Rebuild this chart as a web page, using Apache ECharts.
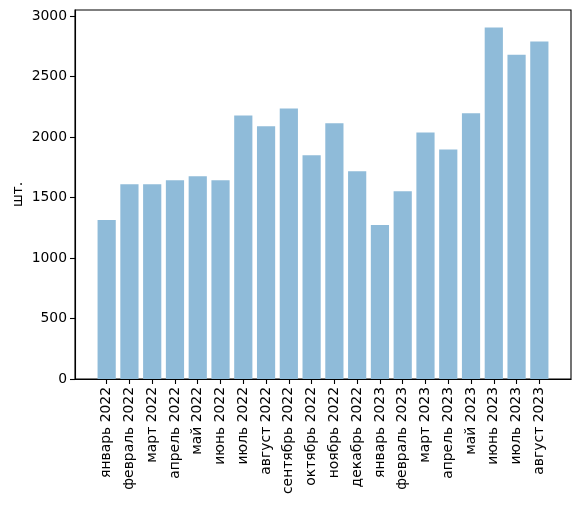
<!DOCTYPE html>
<html>
<head>
<meta charset="utf-8">
<script src="https://cdn.jsdelivr.net/npm/echarts@6/dist/echarts.min.js"></script>
<style>html,body{margin:0;padding:0;background:#fff}#c{width:580px;height:506px}</style>
</head>
<body>
<div id="c"></div>
<script>
const categories = ['январь 2022','февраль 2022','март 2022','апрель 2022','май 2022','июнь 2022','июль 2022','август 2022','сентябрь 2022','октябрь 2022','ноябрь 2022','декабрь 2022','январь 2023','февраль 2023','март 2023','апрель 2023','май 2023','июнь 2023','июль 2023','август 2023'];
const values = [1313,1610,1610,1643,1676,1643,2178,2088,2236,1849,2113,1717,1272,1552,2036,1896,2195,2904,2680,2789];
const yTicks = [0,500,1000,1500,2000,2500,3000];
const yName = 'шт.';

const idx = categories.map((_, i) => i);
const n = categories.length;
const pad = 0.05 * (n - 1 + 0.8);
const yMax = Math.max(...values) * 1.05;
const font = 'DejaVu Sans';

const chart = echarts.init(document.getElementById('c'), null, {renderer: 'canvas'});
chart.setOption({
  animation: false,
  backgroundColor: '#fff',
  grid: {left: 75, right: 9, top: 10, bottom: 127, show: true, borderColor: '#000', borderWidth: 1.1, containLabel: false, outerBoundsMode: 'none'},
  xAxis: {
    type: 'value',
    min: -0.4 - pad,
    max: n - 1 + 0.4 + pad,
    splitLine: {show: false},
    axisLine: {show: true, onZero: false, lineStyle: {color: '#000', width: 1.1}},
    axisTick: {show: true, length: 5, customValues: idx, lineStyle: {color: '#000', width: 1.1}},
    axisLabel: {
      customValues: idx,
      rotate: 90,
      margin: 8,
      color: '#000',
      fontFamily: font,
      fontSize: 13.9,
      formatter: v => categories[Math.round(v)] || ''
    }
  },
  yAxis: {
    type: 'value',
    min: 0,
    max: yMax,
    name: yName,
    nameLocation: 'middle',
    nameGap: 50,
    nameMoveOverlap: false,
    nameTextStyle: {color: '#000', fontFamily: font, fontSize: 13.9},
    splitLine: {show: false},
    axisLine: {show: true, onZero: false, lineStyle: {color: '#000', width: 1.1}},
    axisTick: {show: true, length: 5, customValues: yTicks, lineStyle: {color: '#000', width: 1.1}},
    axisLabel: {customValues: yTicks, margin: 8, color: '#000', fontFamily: font, fontSize: 13.9, formatter: v => String(v)}
  },
  series: [{
    type: 'bar',
    data: values.map((v, i) => [i, v]),
    barWidth: 18.2,
    itemStyle: {color: '#8fbbd9', borderWidth: 0}
  }]
});
</script>
</body>
</html>
